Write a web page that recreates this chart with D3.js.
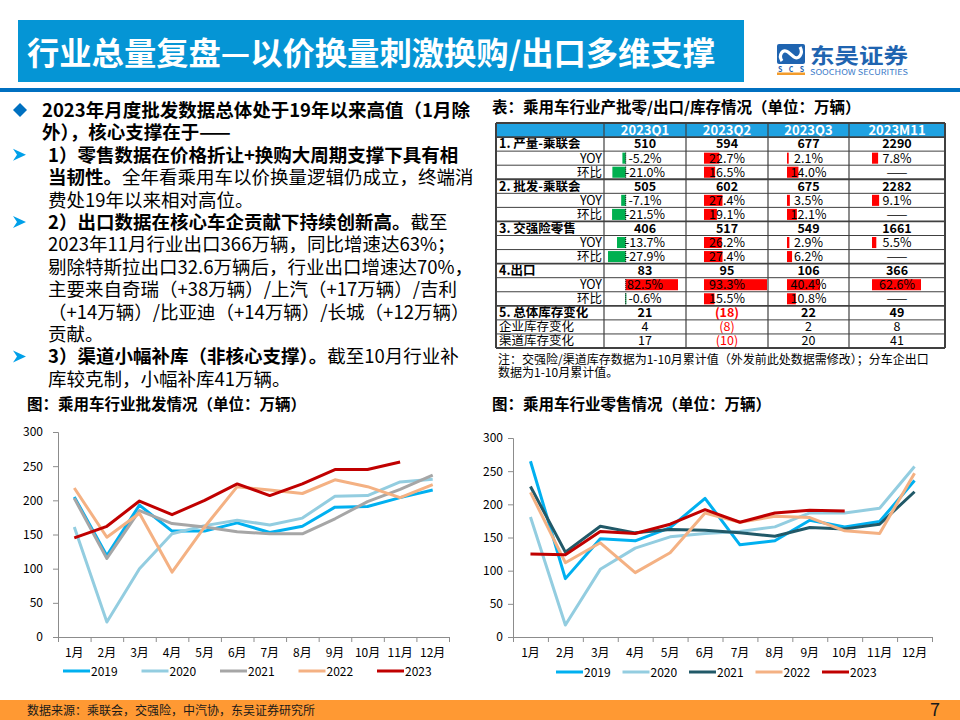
<!DOCTYPE html>
<html>
<head>
<meta charset="utf-8">
<script src="https://cdn.jsdelivr.net/npm/d3@7"></script>
<style>
  body { margin: 0; background: #fff; }
  svg { display: block; }
  text { font-family: "Noto Sans CJK SC", "Noto Sans", sans-serif; }
</style>
</head>
<body>
<svg id="page" width="960" height="720"></svg>
<script>
// ---- data ----
const pageTitle = '行业总量复盘—以价换量刺激换购/出口多维支撑';
const sourceNote = '数据来源：乘联会，交强险，中汽协，东吴证券研究所';
const pageNo = '7';

// left text block: [marker, [bold part, regular part]]
const bulletLines = [
  ['diamond', ['2023年月度批发数据总体处于19年以来高值（1月除', '']],
  ['', ['外），核心支撑在于——', '']],
  ['arrow', ['1）零售数据在价格折让+换购大周期支撑下具有相', '']],
  ['', ['当韧性。', '全年看乘用车以价换量逻辑仍成立，终端消']],
  ['', ['', '费处19年以来相对高位。']],
  ['arrow', ['2）出口数据在核心车企贡献下持续创新高。', '截至']],
  ['', ['', '2023年11月行业出口366万辆，同比增速达63%；']],
  ['', ['', '剔除特斯拉出口32.6万辆后，行业出口增速达70%，']],
  ['', ['', '主要来自奇瑞（+38万辆）/上汽（+17万辆）/吉利']],
  ['', ['', '（+14万辆）/比亚迪（+14万辆）/长城（+12万辆）']],
  ['', ['', '贡献。']],
  ['arrow', ['3）渠道小幅补库（非核心支撑）。', '截至10月行业补']],
  ['', ['', '库较克制，小幅补库41万辆。']]
];

// table
const tableTitle = '表：乘用车行业产批零/出口/库存情况（单位：万辆）';
const tableCols = ['2023Q1', '2023Q2', '2023Q3', '2023M11'];
const rowLabels = ['1. 产量-乘联会', 'YOY', '环比', '2. 批发-乘联会', 'YOY', '环比',
  '3. 交强险零售', 'YOY', '环比', '4.出口', 'YOY', '环比',
  '5. 总体库存变化', '企业库存变化', '渠道库存变化'];
const rowKinds = ['total', 'pct', 'pct', 'total', 'pct', 'pct', 'total', 'pct', 'pct',
  'total', 'pct', 'pct', 'total', 'sub', 'sub'];
const valQ1 = [510, -5.2, -21.0, 505, -7.1, -21.5, 406, -13.7, -27.9, 83, 82.5, -0.6, 21, 4, 17];
const valQ2 = [594, 22.7, 16.5, 602, 27.4, 19.1, 517, 26.2, 27.4, 95, 93.3, 15.5, -18, -8, -10];
const valQ3 = [677, 2.1, 14.0, 675, 3.5, 12.1, 549, 2.9, 6.2, 106, 40.4, 10.8, 22, 2, 20];
const valM11 = [2290, 7.8, null, 2282, 9.1, null, 1661, 5.5, null, 366, 62.6, null, 49, 8, 41];
const tableNote = ['注：交强险/渠道库存数据为1-10月累计值（外发前此处数据需修改）；分车企出口',
  '数据为1-10月累计值。'];

// charts
const months = ['1月', '2月', '3月', '4月', '5月', '6月', '7月', '8月', '9月', '10月', '11月', '12月'];
const years = ['2019', '2020', '2021', '2022', '2023'];
const yTicks = [0, 50, 100, 150, 200, 250, 300];
const chartTitles = ['图：乘用车行业批发情况（单位：万辆）', '图：乘用车行业零售情况（单位：万辆）'];

const wholesale2019 = [205, 119, 193, 155, 155, 167, 153, 162, 190, 191, 204, 215];
const wholesale2020 = [161, 22, 100, 151, 163, 171, 164, 174, 206, 207, 227, 231];
const wholesale2021 = [203, 115, 185, 166, 161, 154, 151, 151, 173, 198, 216, 237];
const wholesale2022 = [218, 146, 181, 95, 161, 220, 215, 210, 230, 220, 204, 223];
const wholesale2023 = [145, 162, 199, 179, 200, 224, 207, 224, 245, 245, 256];

const retail2019 = [265, 88, 148, 145, 165, 209, 139, 145, 176, 166, 174, 236];
const retail2020 = [181, 18, 102, 134, 151, 156, 159, 166, 187, 187, 194, 257];
const retail2021 = [227, 128, 167, 157, 162, 161, 157, 152, 165, 163, 170, 219];
const retail2022 = [218, 112, 142, 97, 127, 187, 173, 182, 180, 160, 156, 247];
const retail2023 = [125, 124, 159, 156, 170, 192, 173, 187, 191, 190];

const wholesaleColors = ['#00b0f0', '#93cde0', '#a6a6a6', '#f4b183', '#c00000'];
const retailColors = ['#00b0f0', '#93cde0', '#215968', '#f4b183', '#c00000'];

// ---- page ----
const svg = d3.select('#page');

// header bar
svg.append('rect').attr('x', 18).attr('y', 20).attr('width', 726).attr('height', 62)
  .attr('fill', '#0595d5');
svg.append('text').attr('x', 27).attr('y', 65).attr('fill', '#fff')
  .attr('font-size', 32).attr('font-weight', 'bold')
  .attr('textLength', 688).attr('lengthAdjust', 'spacingAndGlyphs')
  .text(pageTitle);
svg.append('rect').attr('x', 0).attr('y', 88).attr('width', 960).attr('height', 4)
  .attr('fill', '#0070c0');

// logo
const logo = svg.append('g').attr('transform', 'translate(777,44)');
logo.append('rect').attr('width', 28).attr('height', 20).attr('rx', 2).attr('fill', '#1f64b0');
logo.append('path')
  .attr('d', 'M5,17 C1,11 6,4 11,8 L17,13 C21,16 27,10 23,3')
  .attr('fill', 'none').attr('stroke', '#fff').attr('stroke-width', 3.2);
logo.append('text').attr('x', 14).attr('y', 27.5).attr('text-anchor', 'middle')
  .attr('font-size', 7).attr('font-weight', 'bold').attr('fill', '#1f64b0')
  .attr('textLength', 26).text('SCS');
logo.append('rect').attr('y', 28.5).attr('width', 28).attr('height', 2.5).attr('fill', '#f39c2b');
logo.append('text').attr('x', 33).attr('y', 19).attr('font-size', 21).attr('font-weight', 'bold')
  .attr('fill', '#1f64b0').attr('textLength', 98).attr('lengthAdjust', 'spacingAndGlyphs')
  .text('东吴证券');
logo.append('text').attr('x', 33).attr('y', 30.5).attr('font-size', 8)
  .attr('fill', '#3d7cc9').attr('textLength', 98).attr('lengthAdjust', 'spacingAndGlyphs')
  .text('SOOCHOW SECURITIES');

// left text block
const lineY = d3.scaleLinear().domain([0, 1]).range([117, 139.4]);
const textBlock = svg.append('g');
bulletLines.forEach(([marker, parts], i) => {
  const y = lineY(i);
  const x = i < 2 ? 42 : 48;
  if (marker === 'diamond') {
    textBlock.append('path').attr('d', `M20,${y - 14}L27,${y - 7}L20,${y}L13,${y - 7}Z`)
      .attr('fill', '#0070c0');
  } else if (marker === 'arrow') {
    textBlock.append('path')
      .attr('d', `M13,${y - 13}L26,${y - 7}L13,${y - 1}L17,${y - 7}Z`)
      .attr('fill', '#00a0e9');
  }
  const t = textBlock.append('text').attr('x', x).attr('y', y).attr('font-size', 18.5)
    .attr('fill', '#000');
  if (parts[0]) t.append('tspan').attr('font-weight', 'bold').text(parts[0]);
  if (parts[1]) t.append('tspan').text(parts[1]);
});

// table
svg.append('text').attr('x', 492).attr('y', 113).attr('font-size', 15.5).attr('font-weight', 'bold')
  .text(tableTitle);

const colEdges = [496, 604, 686, 768, 849, 945];
const barOffsets = [[4, 74], [18, 81], [19, 52], [23, 72]];
const rowY = d3.scaleLinear().domain([0, 16]).range([123, 348]);
const colVals = [valQ1, valQ2, valQ3, valM11];
const cellFont = 12.5;
const table = svg.append('g');

table.append('rect').attr('x', colEdges[0]).attr('y', rowY(0))
  .attr('width', colEdges[5] - colEdges[0]).attr('height', rowY(1) - rowY(0))
  .attr('fill', '#1fa2e2');
table.selectAll('text.colhead').data(tableCols).enter().append('text')
  .attr('class', 'colhead')
  .attr('x', (d, i) => (colEdges[i + 1] + colEdges[i + 2]) / 2)
  .attr('y', rowY(0.5) + 4.5)
  .attr('text-anchor', 'middle').attr('font-size', 13).attr('font-weight', 'bold')
  .attr('fill', '#fff').text((d) => d);

// row labels
rowLabels.forEach((label, r) => {
  const kind = rowKinds[r];
  const y = rowY(r + 1.5) + 4.4;
  const t = table.append('text').attr('y', y).attr('font-size', cellFont).attr('fill', '#000')
    .text(label);
  if (kind === 'pct') {
    t.attr('x', colEdges[1] - 2).attr('text-anchor', 'end');
  } else {
    t.attr('x', colEdges[0] + 3);
    if (kind === 'total') t.attr('font-weight', 'bold');
  }
});

// cells with data bars
colVals.forEach((vals, c) => {
  const left = colEdges[c + 1];
  const right = colEdges[c + 2];
  const pcts = vals.filter((v, r) => rowKinds[r] === 'pct' && v !== null);
  const bar = d3.scaleLinear()
    .domain([Math.min(0, d3.min(pcts)), d3.max(pcts)])
    .range([left + barOffsets[c][0], left + barOffsets[c][1]]);
  vals.forEach((v, r) => {
    const kind = rowKinds[r];
    const top = rowY(r + 1);
    const bottom = rowY(r + 2);
    const cx = (left + right) / 2;
    const ty = rowY(r + 1.5) + 4.4;
    if (kind === 'pct') {
      if (v === null) {
        table.append('text').attr('x', cx).attr('y', ty).attr('text-anchor', 'middle')
          .attr('font-size', cellFont).text('——');
        return;
      }
      table.append('rect')
        .attr('x', Math.min(bar(0), bar(v))).attr('y', top + 1.5)
        .attr('width', Math.max(1, Math.abs(bar(v) - bar(0)))).attr('height', bottom - top - 3)
        .attr('fill', v < 0 ? '#00b050' : '#ff0000');
      if (bar.domain()[0] < 0) {
        table.append('line').attr('x1', bar(0)).attr('x2', bar(0))
          .attr('y1', top + 1.5).attr('y2', bottom - 1.5)
          .attr('stroke', '#000').attr('stroke-dasharray', '1,1');
      }
      table.append('text').attr('x', cx).attr('y', ty).attr('text-anchor', 'middle')
        .attr('font-size', cellFont).text(`${v.toFixed(1)}%`);
    } else {
      table.append('text').attr('x', cx).attr('y', ty).attr('text-anchor', 'middle')
        .attr('font-size', cellFont).attr('font-weight', kind === 'total' ? 'bold' : 'normal')
        .attr('fill', v < 0 ? '#ff0000' : '#000')
        .text(v < 0 ? `(${-v})` : v);
    }
  });
});

// grid lines
d3.range(17).forEach((i) => {
  const heavy = i === 0 || i === 16 || i === 1 || rowKinds[i - 1] === 'total';
  table.append('line').attr('x1', colEdges[0]).attr('x2', colEdges[5])
    .attr('y1', rowY(i)).attr('y2', rowY(i))
    .attr('stroke', '#404040').attr('stroke-width', heavy ? 1.8 : 1);
});
colEdges.forEach((x, i) => {
  table.append('line').attr('x1', x).attr('x2', x).attr('y1', rowY(0)).attr('y2', rowY(16))
    .attr('stroke', '#404040').attr('stroke-width', i === 0 || i === 5 ? 2 : 1.2);
});

tableNote.forEach((line, i) => {
  svg.append('text').attr('x', 498).attr('y', 364 + i * 13).attr('font-size', 12)
    .attr('fill', '#000').text(line);
});

// line charts
const charts = [
  {
    title: chartTitles[0], titleX: 27,
    series: [wholesale2019, wholesale2020, wholesale2021, wholesale2022, wholesale2023],
    colors: wholesaleColors, x0: 58, x1: 449, y0: 637, y1: 432, labelGap: 15,
    legendX: 63, legendStep: 78.5, legendY: 671
  },
  {
    title: chartTitles[1], titleX: 492,
    series: [retail2019, retail2020, retail2021, retail2022, retail2023],
    colors: retailColors, x0: 513, x1: 932, y0: 637, y1: 438, labelGap: 10,
    legendX: 556, legendStep: 66.5, legendY: 672
  }
];

charts.forEach((cfg) => {
  const g = svg.append('g');
  g.append('text').attr('x', cfg.titleX).attr('y', 410).attr('font-size', 15.5)
    .attr('font-weight', 'bold').text(cfg.title);

  const x = d3.scaleBand().domain(months).range([cfg.x0, cfg.x1]);
  const xEdge = d3.scaleLinear().domain([0, 12]).range([cfg.x0, cfg.x1]);
  const y = d3.scaleLinear().domain([0, 300]).range([cfg.y0, cfg.y1]);

  const yAxis = g.append('g').attr('transform', `translate(${cfg.x0},0)`)
    .call(d3.axisLeft(y).tickValues(yTicks).tickSize(5).tickPadding(cfg.labelGap - 5));
  yAxis.selectAll('text').attr('font-size', 12).attr('fill', '#000')
    .style('font-family', '"Noto Sans CJK SC", sans-serif');

  g.append('g').attr('transform', `translate(0,${cfg.y0})`)
    .call(d3.axisBottom(xEdge).tickValues(d3.range(13)).tickFormat('').tickSize(5));
  const xLabels = g.append('g').attr('transform', `translate(0,${cfg.y0})`)
    .call(d3.axisBottom(x).tickSize(0).tickPadding(11));
  xLabels.select('.domain').remove();
  xLabels.selectAll('text').attr('font-size', 12).attr('fill', '#000')
    .style('font-family', '"Noto Sans CJK SC", sans-serif');
  g.selectAll('.domain, .tick line').attr('stroke', '#8c8c8c');

  const line = d3.line()
    .x((d, i) => x(months[i]) + x.bandwidth() / 2)
    .y((d) => y(d));
  cfg.series.forEach((s, i) => {
    g.append('path').datum(s).attr('d', line)
      .attr('fill', 'none').attr('stroke', cfg.colors[i]).attr('stroke-width', 3)
      .attr('stroke-linejoin', 'round');
  });

  // legend
  years.forEach((yr, i) => {
    const lx = cfg.legendX + i * cfg.legendStep;
    g.append('line').attr('x1', lx).attr('x2', lx + 27)
      .attr('y1', cfg.legendY).attr('y2', cfg.legendY)
      .attr('stroke', cfg.colors[i]).attr('stroke-width', 3);
    g.append('text').attr('x', lx + 28).attr('y', cfg.legendY + 4.5)
      .attr('font-size', 12).attr('fill', '#000').text(yr);
  });
});

// footer
svg.append('rect').attr('x', 0).attr('y', 700).attr('width', 960).attr('height', 20)
  .attr('fill', '#ff9933');
svg.append('text').attr('x', 27).attr('y', 715).attr('font-size', 12).attr('fill', '#1a1a1a')
  .text(sourceNote);
svg.append('text').attr('x', 930).attr('y', 716).attr('font-size', 18).attr('fill', '#1a1a1a')
  .text(pageNo);
</script>
</body>
</html>
